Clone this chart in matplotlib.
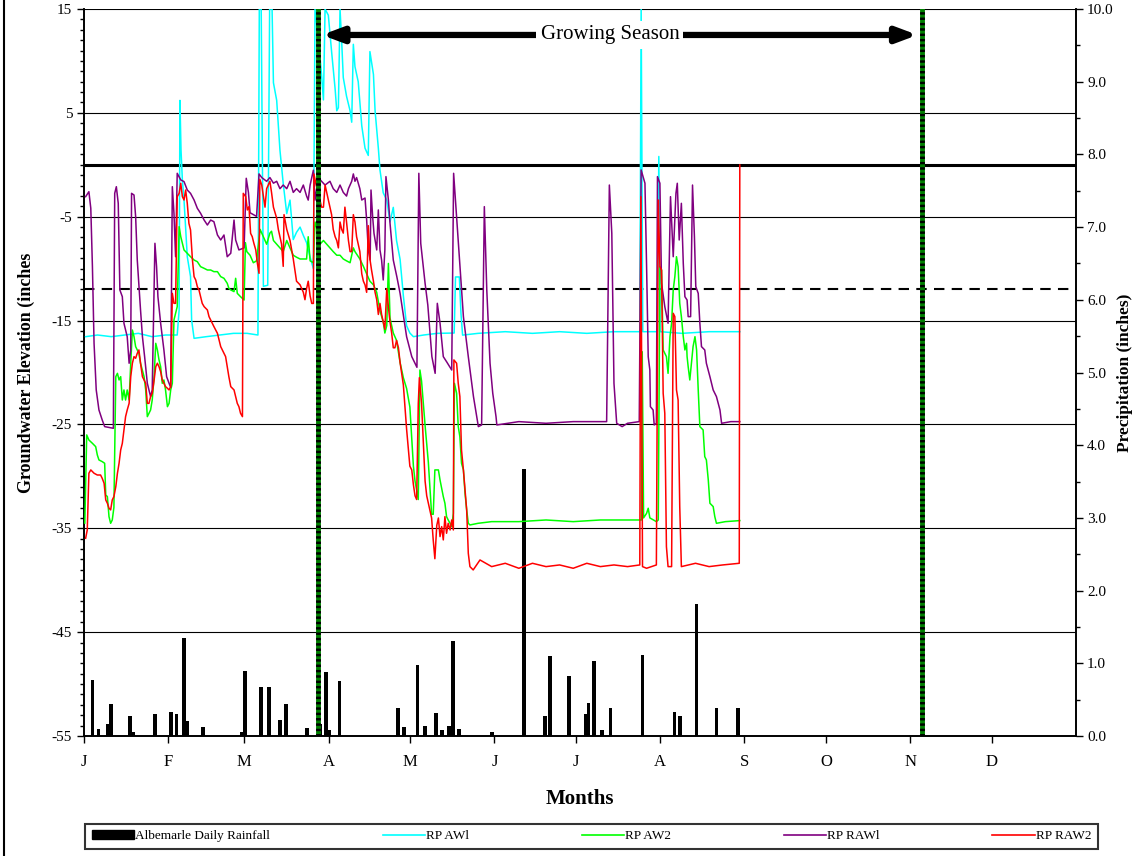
import matplotlib
matplotlib.use("Agg")
import matplotlib.pyplot as plt
from matplotlib.lines import Line2D
from matplotlib.patches import Patch
from matplotlib.ticker import MultipleLocator, FormatStrFormatter

plt.rcParams['font.family'] = ['Liberation Serif', 'DejaVu Serif']
plt.rcParams['axes.unicode_minus'] = False

# x axis is day of year
month_starts = [0, 31, 59, 90, 120, 151, 181, 212, 243, 273, 304, 334]
month_labels = ["J", "F", "M", "A", "M", "J", "J", "A", "S", "O", "N", "D"]

grow_start = 86.0
grow_end = 308.2

# Albemarle daily rainfall (inches)
rain_day = [3.1, 5.3, 8.8, 10.0, 17.0, 18.2, 26.0, 31.9, 34.0, 36.8, 37.9, 43.8,
            58.0, 59.3, 65.2, 68.2, 72.1, 74.2, 82.0, 86.7, 88.9, 90.0, 94.0,
            115.6, 117.7, 122.7, 125.6, 129.6, 131.6, 134.2, 135.7, 138.1, 150.0,
            162.0, 169.7, 171.6, 178.5, 184.5, 185.6, 187.6, 190.7, 193.7, 205.5,
            217.3, 219.4, 225.4, 232.7, 240.6]
rain_in = [0.77, 0.09, 0.17, 0.44, 0.27, 0.06, 0.30, 0.33, 0.30, 1.35, 0.20, 0.12,
           0.06, 0.90, 0.68, 0.68, 0.22, 0.44, 0.11, 0.16, 0.88, 0.08, 0.75,
           0.38, 0.12, 0.98, 0.14, 0.31, 0.08, 0.14, 1.30, 0.10, 0.06,
           3.67, 0.27, 1.10, 0.83, 0.30, 0.45, 1.03, 0.08, 0.38, 1.12,
           0.33, 0.27, 1.82, 0.38, 0.38]

# RP AW1 (cyan)
aw1_day = [0.6, 5, 10, 15, 20, 25, 30, 34.3, 35.0, 35.3, 35.7, 36.2, 36.8, 38.0,
           39.2, 39.6, 40.5, 45, 50, 55, 60, 64.0, 64.5, 65.2, 66.0, 67.6, 68.3,
           69.2, 69.7, 70.9, 72.1, 73.3, 74.6, 75.8, 77.0, 78.2, 79.5, 80.7, 81.9,
           83.2, 84.4, 85.0, 86.2, 87.4, 88.1, 88.7, 89.9, 91.1, 92.4, 93.0, 93.6,
           94.2, 94.8, 95.4, 96.6, 97.9, 98.5, 99.1, 99.7, 100.9, 102.2, 103.4,
           104.6, 105.2, 106.5, 107.1, 108.3, 108.9, 110.1, 111.4, 112.6, 113.8,
           115.0, 116.3, 117.5, 118.7, 119.9, 121.2, 125, 130, 136.2, 136.7, 138.1,
           138.7, 139.3, 145, 155, 165, 175, 185, 195, 204.5, 205.0, 205.6, 211.0,
           211.5, 212.0, 220, 230, 241.3]
aw1_in = [-16.55, -16.39, -16.55, -16.39, -16.23, -16.55, -16.39, -16.39, -14.0, 6.2,
          1.4, -1.5, -3.39, -8.85, -10.77, -14.94, -16.71, -16.55, -16.39, -16.23,
          -16.23, -16.39, 15.0, 15.0, -11.7, -11.6, 15.0, 15.0, 7.9, 6.2, 1.4, -1.8,
          -4.7, -3.4, -7.2, -6.5, -6.0, -6.8, -7.5, -8.9, -10.0, 15.0, 12.3, 8.7,
          6.25, 15.0, 14.4, 10.9, 7.3, 5.2, 5.5, 15.0, 11.95, 8.4, 6.6, 5.2, 4.1,
          11.6, 9.45, 8.0, 3.75, 1.6, 0.9, 10.9, 8.7, 5.2, 1.6, -0.5, -2.7, -3.4,
          -5.5, -4.1, -7.3, -9.1, -12.6, -15.5, -16.2, -16.55, -16.39, -16.23,
          -16.2, -10.8, -10.8, -14.3, -16.4, -16.23, -16.07, -16.23, -16.07, -16.23,
          -16.07, -16.07, 15.0, -16.07, -16.07, 0.8, -16.07, -16.23, -16.07, -16.07]

# RP AW2 (green)
aw2_day = [0.3, 1.0, 1.8, 3.1, 4.3, 4.9, 5.5, 6.7, 7.6, 8.0, 8.6, 9.2, 9.8, 10.4,
           11.0, 11.7, 12.3, 12.9, 13.5, 14.1, 14.7, 15.3, 15.9, 16.6, 17.2, 17.8,
           18.4, 19.0, 19.6, 20.2, 20.8, 22.1, 22.7, 23.3, 23.9, 24.5, 25.1, 25.8,
           26.4, 27.0, 27.6, 28.2, 28.8, 29.4, 30.0, 30.7, 31.3, 31.9, 32.5, 33.1,
           33.7, 34.3, 35.0, 35.6, 36.8, 38.0, 39.2, 40.5, 41.7, 42.9, 44.2, 45.4,
           46.6, 47.8, 49.1, 50.3, 51.5, 52.7, 53.3, 54.0, 55.2, 55.8, 56.4, 57.6,
           58.9, 59.4, 59.9, 61.1, 62.3, 63.5, 64.8, 66.0, 67.2, 68.4, 69.0, 69.7,
           70.9, 72.1, 73.3, 74.6, 75.8, 77.0, 78.2, 79.5, 80.7, 81.9, 82.5, 83.2,
           84.4, 85.0, 86.2, 86.8, 88.1, 89.3, 90.5, 91.7, 93.0, 94.2, 95.4, 96.6,
           97.9, 99.1, 99.7, 101.5, 102.8, 104.0, 105.2, 106.5, 107.7, 108.9, 110.1,
           110.7, 111.4, 112.0, 112.6, 113.8, 115.0, 116.3, 117.5, 118.7, 119.9,
           121.2, 121.8, 123.0, 123.6, 124.2, 125.5, 126.7, 127.9, 128.5, 129.1,
           129.8, 130.4, 131.0, 132.2, 132.8, 133.4, 134.0, 134.7, 135.3, 135.9,
           136.3, 137.1, 137.7, 138.3, 138.9, 139.6, 140.2, 140.8, 141.4, 142.0,
           145, 150, 160, 170, 180, 190, 200, 205.1, 205.4, 205.9, 207.0, 207.6,
           208.2, 210.6, 211.3, 211.9, 212.5, 213.1, 214.3, 214.9, 215.6, 216.2,
           216.8, 217.4, 218.0, 218.6, 219.2, 219.8, 220.5, 221.1, 221.7, 221.9,
           222.3, 222.9, 223.5, 224.1, 224.8, 225.4, 226.0, 226.6, 227.8, 228.4,
           229.0, 229.7, 230.3, 231.5, 232.1, 232.7, 236, 241.3]
aw2_in = [-34.5, -26.01, -26.50, -26.82, -27.14, -27.94, -28.42, -28.58, -28.74,
          -31.79, -31.95, -33.88, -34.52, -34.20, -33.0, -20.40, -20.08, -20.72,
          -20.40, -22.65, -21.68, -22.65, -21.68, -22.65, -19.11, -15.91, -16.55,
          -17.51, -17.83, -18.15, -19.11, -20.40, -21.68, -24.25, -23.93, -23.61,
          -22.65, -20.40, -17.19, -17.83, -18.79, -19.44, -21.04, -20.72, -21.68,
          -23.29, -22.97, -21.68, -21.04, -14.94, -14.30, -13.66, -5.96, -6.92,
          -8.20, -8.52, -8.85, -9.17, -9.33, -9.81, -9.97, -10.13, -10.13, -10.29,
          -10.29, -10.77, -10.93, -11.41, -11.89, -12.05, -12.21, -10.93, -12.38,
          -12.70, -13.02, -7.5, -8.36, -8.71, -9.43, -9.25, -6.22, -6.93, -7.65,
          -6.58, -6.40, -7.29, -7.65, -8.00, -8.36, -7.29, -8.00, -8.71, -8.9,
          -9.07, -9.07, -9.07, -6.93, -9.25, -9.43, -5.51, -6.58, -7.65, -7.29,
          -7.65, -8.00, -8.36, -8.71, -8.71, -9.07, -9.25, -9.43, -8.00, -8.36,
          -9.07, -9.78, -10.50, -11.21, -11.56, -12.28, -14.06, -15.13, -16.20,
          -15.48, -9.5, -14.77, -16.2, -16.91, -19.04, -20.5, -21.54, -23.32,
          -29.02, -30.45, -32.23, -19.76, -20.83, -25.10, -28.66, -33.65, -33.65,
          -29.38, -29.38, -29.38, -30.35, -31.95, -32.59, -33.88, -34.20, -34.52,
          -34.84, -33.56, -21.04, -22.0, -25.21, -26.18, -28.74, -29.38, -31.63,
          -33.23, -34.52, -34.68, -34.52, -34.36, -34.36, -34.20, -34.36, -34.20,
          -34.20, -34.20, -18.0, -34.0, -33.56, -33.07, -34.0, -34.36, -34.2,
          -9.81, -10.13, -17.83, -18.47, -20.08, -16.55, -15.26, -12.05, -10.77,
          -8.85, -9.81, -13.34, -14.62, -16.55, -17.83, -17.19, -18.47, -19.44,
          -20.72, -19.11, -17.51, -16.55, -17.83, -21.68, -25.21, -25.53, -28.10,
          -28.42, -30.35, -32.59, -32.91, -33.88, -34.52, -34.36, -34.26]

# RP RAW1 (purple)
raw1_day = [0.6, 1.8, 2.5, 3.1, 3.7, 4.5, 5.5, 6.7, 7.6, 10.8, 11.3, 11.9, 12.6,
            13.2, 14.1, 14.7, 15.9, 16.6, 17.2, 17.5, 18.4, 19.0, 19.6, 20.8, 21.5,
            22.3, 23.3, 24.5, 25.1, 26.1, 26.7, 27.2, 28.2, 29.4, 30.4, 31.3, 31.9,
            32.5, 33.1, 33.7, 34.3, 35.6, 36.8, 38.0, 39.2, 40.5, 41.7, 42.9, 44.2,
            45.4, 46.6, 47.8, 49.1, 50.3, 51.5, 52.7, 54.0, 55.2, 55.8, 57.0, 58.9,
            59.7, 60.5, 61.1, 62.3, 63.5, 64.4, 65.4, 67.2, 68.4, 69.7, 70.9, 72.1,
            73.3, 74.6, 75.8, 77.0, 78.2, 79.5, 80.7, 81.9, 82.5, 83.2, 84.4, 85.0,
            86.2, 87.4, 88.7, 90.5, 91.7, 93.0, 94.2, 95.4, 96.6, 97.3, 98.5, 99.1,
            99.7, 100.3, 101.5, 102.2, 103.4, 104.0, 104.6, 105.3, 105.6, 106.2,
            106.7, 107.7, 108.3, 108.9, 109.5, 110.1, 110.7, 111.1, 112.0, 112.6,
            113.8, 115.1, 116.3, 118.7, 120.6, 121.8, 122.5, 123.2, 123.9, 125.5,
            126.5, 128.0, 129.2, 130.0, 131.0, 132.2, 133.5, 135.3, 136.0, 136.5,
            137.8, 139.6, 141.4, 143.3, 145.1, 146.3, 147.3, 148.2, 149.4, 150.4,
            151.6, 151.9, 160, 170, 180, 192.3, 193.3, 194.2, 195.0, 196.0, 198,
            200, 204.3, 205.0, 206.4, 207.0, 207.6, 208.2, 208.4, 209.4, 209.8,
            210.6, 211.0, 211.9, 212.5, 213.7, 214.9, 215.8, 216.8, 217.8, 218.3,
            219.0, 219.8, 220.5, 221.1, 221.9, 222.3, 223.2, 223.9, 224.6, 225.1,
            226.0, 226.6, 227.2, 228.4, 229.0, 230.3, 231.5, 232.7, 234.0, 234.6,
            238, 241.3]
raw1_in = [-3.07, -2.59, -4.19, -9.81, -17.19, -21.68, -23.61, -24.57, -25.21,
           -25.37, -2.75, -2.11, -3.71, -12.05, -12.70, -15.26, -16.55, -19.11,
           -17.83, -2.75, -2.91, -4.99, -9.17, -13.98, -16.55, -18.47, -21.04,
           -22.32, -21.68, -7.56, -9.81, -12.70, -15.26, -17.83, -20.40, -21.04,
           -21.43, -2.11, -4.67, -8.85, -0.82, -1.46, -1.62, -2.43, -2.75, -3.39,
           -4.19, -4.67, -5.32, -5.80, -5.32, -5.48, -6.76, -7.24, -6.76, -8.85,
           -8.52, -5.32, -7.24, -8.20, -8.0, -1.30, -2.66, -4.62, -4.80, -4.97,
           -0.88, -1.23, -1.59, -1.23, -1.77, -1.59, -2.30, -1.95, -2.30, -1.59,
           -2.66, -2.30, -2.66, -1.95, -3.01, -3.4, -1.95, -0.52, -3.4, -1.23,
           -1.59, -1.95, -1.59, -2.30, -2.66, -1.95, -2.66, -3.01, -2.30, -1.59,
           -0.88, -1.59, -1.23, -2.30, -3.39, -3.2, -5.32, -8.20, -9.17, -2.43,
           -4.99, -6.60, -8.20, -4.35, -8.20, -9.17, -11.09, -8.20, -1.14, -3.39,
           -5.64, -9.17, -10.77, -12.38, -16.55, -18.47, -19.11, -19.5, -0.82,
           -7.56, -11.41, -13.5, -18.47, -20.08, -13.34, -15.26, -18.47, -19.0,
           -19.76, -0.82, -2.75, -7.88, -14.62, -18.47, -22.32, -25.21, -25.05,
           -4.03, -12.05, -19.11, -22.0, -24.25, -25.05, -24.73, -24.89, -24.73,
           -24.73, -1.95, -6.60, -21.04, -24.89, -25.21, -24.89, -24.73, -0.50,
           -1.78, -9.81, -18.47, -19.76, -23.29, -23.61, -25.05, -24.89, -1.14,
           -1.78, -11.41, -13.66, -15.26, -3.07, -8.85, -2.75, -1.78, -7.24, -3.71,
           -9.49, -12.70, -13.02, -14.62, -14.62, -1.95, -6.92, -11.73, -12.38,
           -15.26, -17.51, -17.83, -19.11, -20.40, -21.68, -22.32, -23.61, -24.89,
           -24.73, -24.73]

# RP RAW2 (red)
raw2_day = [0.6, 1.2, 1.8, 2.5, 3.7, 4.9, 6.1, 6.7, 7.4, 8.0, 8.6, 9.2, 9.8, 10.4,
            11.0, 11.7, 12.3, 12.9, 13.5, 14.1, 14.7, 15.3, 15.9, 16.6, 17.2, 17.8,
            18.4, 19.0, 19.6, 20.2, 20.8, 21.5, 22.1, 22.7, 23.3, 23.9, 24.5, 25.1,
            25.8, 26.4, 27.0, 27.6, 28.2, 28.8, 29.4, 30.0, 30.7, 31.3, 31.9, 32.5,
            33.1, 33.7, 34.3, 35.0, 35.6, 36.2, 36.8, 37.4, 38.0, 38.6, 39.2, 39.9,
            40.5, 41.1, 41.7, 42.3, 42.9, 43.5, 44.2, 45.4, 46.0, 46.6, 47.8, 49.1,
            50.3, 51.5, 52.1, 52.7, 53.3, 54.0, 55.2, 55.8, 56.4, 57.0, 57.6, 58.3,
            58.6, 59.5, 60.1, 60.7, 61.3, 61.9, 62.5, 63.2, 63.8, 64.4, 64.7, 65.4,
            66.0, 66.6, 67.2, 68.4, 69.0, 69.7, 70.9, 71.5, 72.1, 72.7, 73.3, 73.6,
            74.6, 75.8, 77.0, 77.6, 78.2, 79.5, 80.7, 81.3, 81.9, 82.5, 83.2, 83.8,
            84.4, 84.6, 85.4, 86.2, 86.8, 87.4, 88.1, 88.7, 89.3, 89.9, 90.5, 91.1,
            91.7, 92.4, 93.0, 93.6, 94.2, 94.8, 95.4, 96.0, 96.6, 97.3, 97.9, 98.5,
            99.1, 99.7, 100.3, 100.9, 101.5, 102.2, 102.8, 103.4, 104.0, 104.6,
            105.2, 105.8, 106.5, 107.1, 107.7, 108.3, 108.9, 109.5, 110.1, 110.7,
            111.4, 112.0, 112.6, 113.2, 113.8, 114.4, 115.0, 115.7, 116.3, 117.5,
            118.1, 118.7, 119.3, 119.9, 120.6, 121.2, 121.8, 122.4, 123.0, 123.4,
            124.2, 124.9, 125.5, 126.1, 127.3, 127.9, 128.5, 129.1, 129.8, 130.4,
            131.0, 131.6, 132.2, 132.8, 133.4, 134.0, 134.7, 135.3, 135.9, 136.1,
            137.1, 137.7, 138.3, 138.9, 139.6, 140.2, 140.8, 141.4, 142.0, 143.2,
            145.7, 150, 155, 160, 165, 170, 175, 180, 185, 190, 195, 200, 204.5,
            204.9, 205.5, 207, 210.6, 211.3, 211.9, 212.5, 213.1, 213.7, 214.3,
            214.9, 216.2, 216.8, 217.4, 218.0, 218.6, 219.2, 219.8, 225, 230, 235,
            241.1, 241.3]
raw2_in = [-35.96, -35.16, -29.70, -29.38, -29.70, -29.87, -29.87, -30.19, -30.67,
           -32.27, -32.59, -33.07, -33.23, -32.27, -31.95, -30.99, -29.70, -28.74,
           -27.46, -26.82, -25.53, -24.25, -23.61, -22.97, -20.40, -19.11, -18.47,
           -18.63, -18.15, -17.83, -19.11, -20.40, -20.72, -21.04, -22.97, -22.97,
           -22.32, -22.00, -20.72, -19.44, -19.11, -19.44, -19.92, -20.72, -21.04,
           -21.36, -21.52, -21.68, -21.36, -12.38, -13.34, -13.34, -3.07, -2.75,
           -1.78, -3.07, -3.39, -2.43, -3.71, -5.64, -6.28, -9.17, -10.77, -11.09,
           -11.73, -12.05, -12.70, -13.34, -13.66, -13.98, -14.62, -14.94, -15.58,
           -16.23, -17.51, -18.15, -18.47, -19.44, -20.40, -21.36, -21.68, -22.32,
           -22.97, -23.29, -23.93, -24.25, -2.75, -3.07, -4.35, -4.03, -6.60, -6.92,
           -7.56, -8.20, -9.49, -10.45, -1.4, -1.95, -3.01, -4.08, -2.30, -1.59,
           -2.66, -4.08, -5.15, -6.22, -6.93, -7.65, -9.78, -4.80, -6.22, -7.29,
           -9.07, -10.14, -11.21, -11.56, -12.28, -12.99, -11.92, -11.21, -12.63,
           -13.35, -13.35, -0.88, -1.95, -2.66, -3.37, -4.08, -4.08, -1.95, -2.66,
           -3.37, -4.08, -4.80, -6.22, -6.93, -7.29, -8.00, -5.51, -6.22, -6.58,
           -4.08, -5.51, -7.29, -8.36, -8.36, -4.80, -5.51, -6.93, -7.65, -8.36,
           -10.50, -11.21, -11.56, -12.28, -5.86, -9.07, -10.14, -11.21, -12.28,
           -12.99, -14.41, -13.35, -14.41, -15.13, -15.84, -11.92, -13.70, -15.13,
           -16.20, -17.62, -17.62, -16.91, -17.62, -19.04, -21.18, -23.32, -25.46,
           -27.24, -29.02, -29.38, -30.80, -31.87, -32.23, -23.0, -20.5, -22.96,
           -26.88, -30.45, -31.87, -33.30, -34.01, -36.15, -37.93, -34.72, -34.01,
           -35.8, -34.84, -36.12, -33.88, -35.48, -34.52, -35.16, -34.20, -35.16,
           -18.79, -19.11, -21.04, -22.32, -27.46, -29.38, -31.31, -33.23, -37.41,
           -38.69, -39.01, -38.05, -38.69, -38.37, -38.85, -38.37, -38.69, -38.53,
           -38.85, -38.37, -38.69, -38.53, -38.69, -38.53, -3.07, -38.69, -38.85,
           -38.53, -3.39, -9.81, -10.13, -22.0, -23.93, -36.77, -38.69, -38.69,
           -14.30, -14.62, -21.68, -22.65, -32.91, -38.69, -38.37, -38.69, -38.53,
           -38.37, -0.02]

fig = plt.figure(figsize=(11.35, 8.56), dpi=100)
ax = fig.add_axes([84 / 1135, 120 / 856, 992 / 1135, 727 / 856])
ax2 = ax.twinx()

# rainfall bars on the right axis, drawn behind the water level lines
ax2.bar(rain_day, rain_in, width=1.4, color="black", zorder=1)
ax2.set_ylim(0, 10)
ax2.yaxis.set_major_locator(MultipleLocator(1))
ax2.yaxis.set_minor_locator(MultipleLocator(0.5))
ax2.yaxis.set_major_formatter(FormatStrFormatter("%.1f"))
ax2.tick_params(axis="y", which="major", length=5, width=1, labelsize=11,
                direction="out", pad=3)
ax2.tick_params(axis="y", which="minor", length=3, width=1, direction="out")
ax2.set_ylabel("Precipitation (inches)", fontsize=12.5, fontweight="bold", labelpad=2)

ax.set_zorder(ax2.get_zorder() + 1)
ax.patch.set_visible(False)

ax.set_xlim(0, 365)
ax.set_ylim(-55, 15)

for g in [-45, -35, -25, -15, -5, 5, 15]:
    ax.axhline(g, color="black", lw=0.8, zorder=1)
ax.axhline(0, color="black", lw=2.2, zorder=1)
ax.axhline(-12, color="black", lw=1.5, ls=(0, (5, 3.5)), zorder=1)

ax.plot(aw1_day, aw1_in, color="#00FFFF", lw=1.1, zorder=3)
ax.plot(aw2_day, aw2_in, color="#00FF00", lw=1.1, zorder=3)
ax.plot(raw1_day, raw1_in, color="#800080", lw=1.1, zorder=3)
ax.plot(raw2_day, raw2_in, color="#FF0000", lw=1.1, zorder=3)

# growing season boundaries
for d in [grow_start, grow_end]:
    ax.axvline(d, color="#008000", lw=3.5, zorder=4)
    ax.axvline(d, color="black", lw=3.5, ls=(0, (0.5, 0.6)), zorder=5)

ax.annotate("", xy=(grow_start + 1.5, 12.5), xytext=(grow_end - 1.5, 12.5),
            arrowprops=dict(arrowstyle="<|-|>,head_length=1.2,head_width=0.45",
                            color="black", lw=4.5, shrinkA=0, shrinkB=0), zorder=6)
ax.text(193.5, 12.5, "Growing Season", fontsize=15, ha="center", va="center",
        bbox=dict(facecolor="white", edgecolor="none", pad=3), zorder=7)

ax.set_xticks(month_starts)
ax.set_xticklabels(month_labels)
ax.tick_params(axis="x", length=5, width=1, labelsize=12, direction="out", pad=8)
ax.yaxis.set_minor_locator(MultipleLocator(1))
ax.set_yticks([-55, -45, -35, -25, -15, -5, 5, 15])
ax.tick_params(axis="y", which="major", length=5, width=1, labelsize=11, direction="out")
ax.tick_params(axis="y", which="minor", length=3, width=1, direction="out")
ax.set_ylabel("Groundwater Elevation (inches", fontsize=13, fontweight="bold", labelpad=12)
ax.set_xlabel("Months", fontsize=15, fontweight="bold", labelpad=14)

ax.spines["top"].set_visible(False)
ax2.spines["top"].set_visible(False)
for sp in list(ax2.spines.values()) + list(ax.spines.values()):
    sp.set_linewidth(1.2)

handles = [Patch(facecolor="black", edgecolor="black"),
           Line2D([], [], color="#00FFFF", lw=1.2),
           Line2D([], [], color="#00FF00", lw=1.2),
           Line2D([], [], color="#800080", lw=1.2),
           Line2D([], [], color="#FF0000", lw=1.2)]
labels = ["Albemarle Daily Rainfall", "RP AWl", "RP AW2", "RP RAWl", "RP RAW2"]
leg = fig.legend(handles, labels, loc="lower left", ncol=5, mode="expand",
                 bbox_to_anchor=(85 / 1135, 7 / 856, 1013 / 1135, 29 / 856),
                 fontsize=9.5, frameon=True, fancybox=False, handlelength=3.2,
                 handletextpad=0.1, borderaxespad=0, borderpad=0.5)
leg.get_frame().set_edgecolor("black")
leg.get_frame().set_linewidth(1.5)

fig.add_artist(Line2D([4 / 1135, 4 / 1135], [0, 1], color="black", lw=1.5))

fig.savefig("out.png", dpi=100)
